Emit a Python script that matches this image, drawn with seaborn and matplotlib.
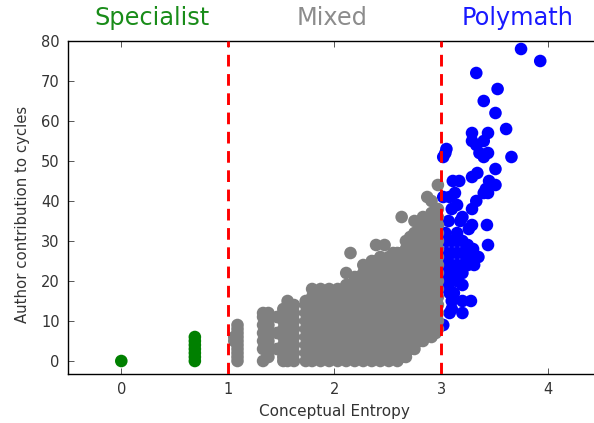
import pandas as pd
import matplotlib
matplotlib.use("Agg")
import matplotlib.pyplot as plt
import seaborn as sns

# Specialist authors
specialist_entropy = [0.0, 0.69, 0.69, 0.69, 0.69, 0.69, 0.69, 0.69]
specialist_contrib = [0, 0, 1, 2, 3, 4, 5, 6]

# Mixed authors, one list of contributions per entropy column
mixed_entropy = [1.06, 1.09, 1.33, 1.38, 1.46, 1.52, 1.56, 1.62, 1.73, 1.79,
                 1.83, 1.87, 1.91, 1.95, 1.99, 2.03, 2.07, 2.11, 2.15, 2.19,
                 2.23, 2.27, 2.31, 2.35, 2.39, 2.43, 2.47, 2.51, 2.55, 2.59,
                 2.63, 2.67, 2.71, 2.75, 2.79, 2.83, 2.87, 2.91, 2.95, 2.97]
mixed_contrib = [
    [5, 6],
    [0, 1, 2, 3, 4, 5, 6, 7, 8, 9],
    [0, 3, 5, 7, 9, 11, 12],
    [1, 3, 5, 7, 9, 11, 12],
    [3, 7, 11],
    [0, 1, 2, 4, 6, 8, 10, 12, 13],
    [0, 2, 4, 6, 8, 10, 12, 15],
    [0, 2, 4, 6, 8, 10, 12, 14],
    [0, 2, 4, 6, 8, 10, 12, 14, 15],
    [0, 2, 4, 6, 8, 10, 12, 14, 16, 18],
    [1, 3, 5, 7, 9, 11, 13, 15, 17],
    [0, 2, 4, 6, 8, 10, 12, 14, 16, 18],
    [1, 3, 5, 7, 9, 11, 13, 15, 17],
    [0, 2, 4, 6, 8, 10, 12, 14, 16, 18],
    [1, 3, 5, 7, 9, 11, 13, 15, 17],
    [0, 2, 4, 6, 8, 10, 12, 14, 16, 18],
    [1, 3, 5, 7, 9, 11, 13, 15, 17],
    [0, 2, 4, 6, 8, 10, 12, 14, 16, 18, 19, 22],
    [1, 3, 5, 7, 9, 11, 13, 15, 17, 19, 27],
    [0, 2, 4, 6, 8, 10, 12, 14, 16, 18, 20, 21],
    [1, 3, 5, 7, 9, 11, 13, 15, 17, 19, 21],
    [0, 2, 4, 6, 8, 10, 12, 14, 16, 18, 20, 22, 24],
    [1, 3, 5, 7, 9, 11, 13, 15, 17, 19, 21, 23],
    [0, 2, 4, 6, 8, 10, 12, 14, 16, 18, 20, 22, 24, 25],
    [1, 3, 5, 7, 9, 11, 13, 15, 17, 19, 21, 23, 25, 29],
    [0, 2, 4, 6, 8, 10, 12, 14, 16, 18, 20, 22, 24, 26],
    [1, 3, 5, 7, 9, 11, 13, 15, 17, 19, 21, 23, 25, 29],
    [0, 2, 4, 6, 8, 10, 12, 14, 16, 18, 20, 22, 24, 26],
    [1, 3, 5, 7, 9, 11, 13, 15, 17, 19, 21, 23, 25, 27],
    [0, 2, 4, 6, 8, 10, 12, 14, 16, 18, 20, 22, 24, 26, 27],
    [1, 3, 5, 7, 9, 11, 13, 15, 17, 19, 21, 23, 25, 27, 36],
    [1, 2, 4, 6, 8, 10, 12, 14, 16, 18, 20, 22, 24, 26, 28, 30],
    [3, 5, 7, 9, 11, 13, 15, 17, 19, 21, 23, 25, 27, 29, 31],
    [3, 4, 6, 8, 10, 12, 14, 16, 18, 20, 22, 24, 26, 28, 30, 32, 35],
    [5, 7, 9, 11, 13, 15, 17, 19, 21, 23, 25, 27, 29, 31, 33],
    [5, 6, 8, 10, 12, 14, 16, 18, 20, 22, 24, 26, 28, 30, 32, 34, 36],
    [7, 9, 11, 13, 15, 17, 19, 21, 23, 25, 27, 29, 31, 33, 35, 41],
    [6, 8, 10, 12, 14, 16, 18, 20, 22, 24, 26, 28, 30, 32, 34, 36, 37, 40],
    [7, 9, 11, 13, 15, 17, 19, 21, 23, 25, 27, 29, 31, 33, 35, 37],
    [8, 10, 12, 14, 16, 18, 20, 22, 24, 26, 28, 30, 32, 34, 36, 38, 44],
]

# Polymath authors
polymath_entropy = [3.75, 3.93, 3.33, 3.53, 3.40, 3.51, 3.61, 3.29, 3.44, 3.66,
                    3.51, 3.05, 3.04, 3.02, 3.29, 3.33, 3.40, 3.36, 3.44, 3.40,
                    3.34, 3.29, 3.11, 3.17, 3.45, 3.51, 3.42, 3.44, 3.40, 3.02,
                    3.13, 3.08, 3.33, 3.29, 3.10, 3.15, 3.20, 3.07, 3.18, 3.29,
                    3.26, 3.43, 3.44, 3.04, 3.15, 3.35, 3.31, 3.20, 3.16, 3.07,
                    3.10, 3.20, 3.28, 3.08, 3.20, 3.02, 3.00,
                    3.05, 3.10, 3.15, 3.20, 3.25, 3.30, 3.05, 3.10, 3.15, 3.20,
                    3.25, 3.30, 3.05, 3.10, 3.15, 3.20, 3.25, 3.05, 3.10, 3.15,
                    3.20, 3.05, 3.10, 3.15, 3.08, 3.12, 3.04, 3.10, 3.05, 3.08]
polymath_contrib = [78, 75, 72, 68, 65, 62, 58, 57, 57, 51,
                    48, 53, 52, 51, 55, 54, 55, 52, 52, 51,
                    47, 46, 45, 45, 45, 44, 43, 42, 42, 41,
                    42, 41, 40, 38, 38, 39, 36, 35, 35, 34,
                    33, 34, 29, 32, 32, 26, 24, 22, 20, 18,
                    15, 15, 15, 12, 12, 9, 21,
                    30, 30, 30, 30, 29, 28, 27, 27, 27, 27,
                    26, 26, 24, 24, 24, 24, 24, 22, 22, 22,
                    19, 20, 20, 20, 17, 17, 23, 13, 26, 24]

tick_x = [0, 1, 2, 3, 4]
tick_y = [0, 10, 20, 30, 40, 50, 60, 70, 80]
boundaries = [1, 3]
group_labels = ["Specialist", "Mixed", "Polymath"]
group_label_x = [0.29, 1.98, 3.72]
group_colors = ["green", "gray", "blue"]

# Build long table, polymaths first so the gray mass sits over them
rows = []
for e, c in zip(polymath_entropy, polymath_contrib):
    rows.append((e, c, "Polymath"))
for e, col in zip(mixed_entropy, mixed_contrib):
    for c in col:
        rows.append((e, c, "Mixed"))
for e, c in zip(specialist_entropy, specialist_contrib):
    rows.append((e, c, "Specialist"))
df = pd.DataFrame(rows, columns=["entropy", "contrib", "group"])

sns.set_style("ticks")
plt.rcParams["font.family"] = ["DejaVu Sans"]

fig = plt.figure(figsize=(5.94, 4.23), dpi=100)
# right edge of the axes runs past the crop, as in the picture
ax = fig.add_axes([68 / 594, (423 - 374) / 423, 533 / 594, 333 / 423])

sns.scatterplot(data=df, x="entropy", y="contrib", hue="group",
                hue_order=group_labels, palette=group_colors,
                s=82, linewidth=0, legend=False, ax=ax, zorder=2)

for b in boundaries:
    ax.axvline(b, color="red", linestyle="--", linewidth=2.1, dashes=(4, 2.6), zorder=3)

ax.set_xlim(-0.5, 4.5)
ax.set_ylim(-3.25, 80)
ax.set_xticks(tick_x)
ax.set_yticks(tick_y)
ax.set_xlabel("Conceptual Entropy", fontsize=11, color="#333333")
ax.set_ylabel("Author contribution to cycles", fontsize=10.7, color="#333333")
ax.xaxis.set_label_coords((334 - 68) / 533, -30 / 333)
ax.yaxis.set_label_coords(-38 / 533, 0.478)
ax.tick_params(direction="in", length=4, width=0.7, color="#555555", top=True, right=True,
               labelsize=10.5, labelcolor="#333333", pad=6)
for side in ax.spines.values():
    side.set_linewidth(1.0)
    side.set_color("black")

for name, xpos, col in zip(group_labels, group_label_x, group_colors):
    ax.text(xpos, 85.8, name, color=col, fontsize=17.3, ha="center", va="center", alpha=0.9)

fig.savefig("out.png", dpi=100)
